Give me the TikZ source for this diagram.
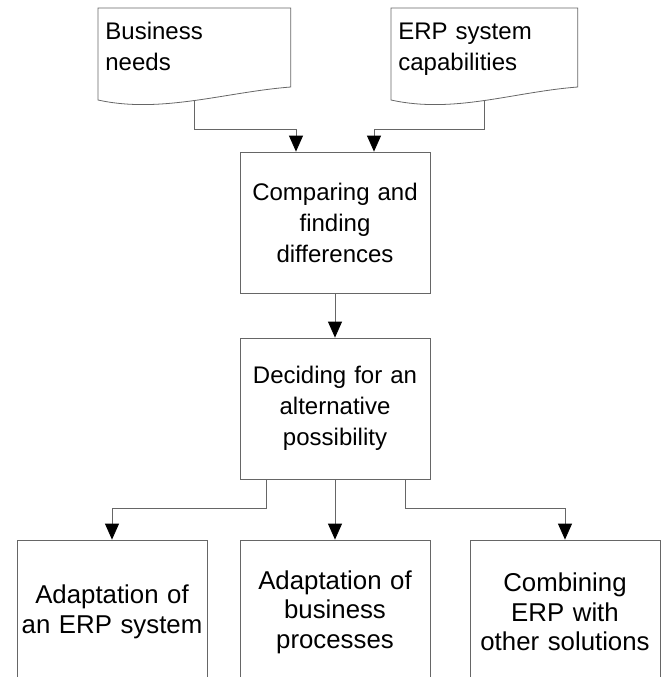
\documentclass[tikz,border=0pt]{standalone}
\usepackage{fontspec}
\setsansfont{Liberation Sans}
\usetikzlibrary{arrows.meta}
\tikzset{
  flownode/.style = {inner sep=0pt, font=\sffamily\fontsize{24}{31}\selectfont},
  doc_t/.style = {flownode, anchor=north west, align=left, text width=178pt,
    inner xsep=7pt, inner ysep=14pt, text height=17pt},
  docline/.style = {-, draw=black!60, line width=0.8pt},
  box_n/.style = {flownode, align=center, rectangle, draw=black!60,
    line width=0.8pt, text width=182pt, minimum width=190pt, minimum height=141pt},
  box_b/.style = {box_n, font=\sffamily\fontsize{25.8}{29.5}\selectfont,
    text width=188pt, minimum height=144pt}
}
% wavy outline under a document node
\newcommand{\docframe}[1]{%
  \draw[docline] (#1.north west) -- ++(0,92)
    .. controls +(63,14) and +(-65,5) .. ([yshift=-79pt]#1.north east)
    -- (#1.north east) -- cycle;}

\begin{document}
\begin{tikzpicture}[x=1pt, y=-1pt, ->, >={Triangle[width=14pt,length=16pt,color=black]},
  draw=black!60, line width=0.8pt]
\useasboundingbox (0,0) rectangle (667,677);
\clip (0,0) rectangle (667,677);

\node [doc_t] (needs) at (98,8) {Business\\needs};
\node [doc_t, text width=172pt] (erp) at (391,8) {ERP system\\capabilities};
\docframe{needs}
\docframe{erp}
\path (needs.north) ++(0,93) coordinate (needs_out);
\path (erp.north) ++(0,93) coordinate (erp_out);

\node [box_n] (compare) at (335,222.5) {Comparing and\\finding\\differences};
\node [box_n] (decide) at (335,408.5) {Deciding for an\\alternative\\possibility};

\node [box_b] (adapt_erp) at (112,612) {Adaptation of\\an ERP system};
\node [box_b] (adapt_bp) at (335,612) {Adaptation of\\business\\processes};
\node [box_b] (combine) at (565,612) {Combining\\ERP with\\other solutions};

\draw (needs_out) -- ++(0,28) -| ([xshift=-39pt]compare.north);
\draw (erp_out) -- ++(0,28) -| ([xshift=39pt]compare.north);
\draw (compare) -- (decide);
\draw ([xshift=-69pt]decide.south) -- ++(0,29) -| (adapt_erp.north);
\draw (decide) -- (adapt_bp);
\draw ([xshift=70pt]decide.south) -- ++(0,29) -| (combine.north);
\end{tikzpicture}
\end{document}
